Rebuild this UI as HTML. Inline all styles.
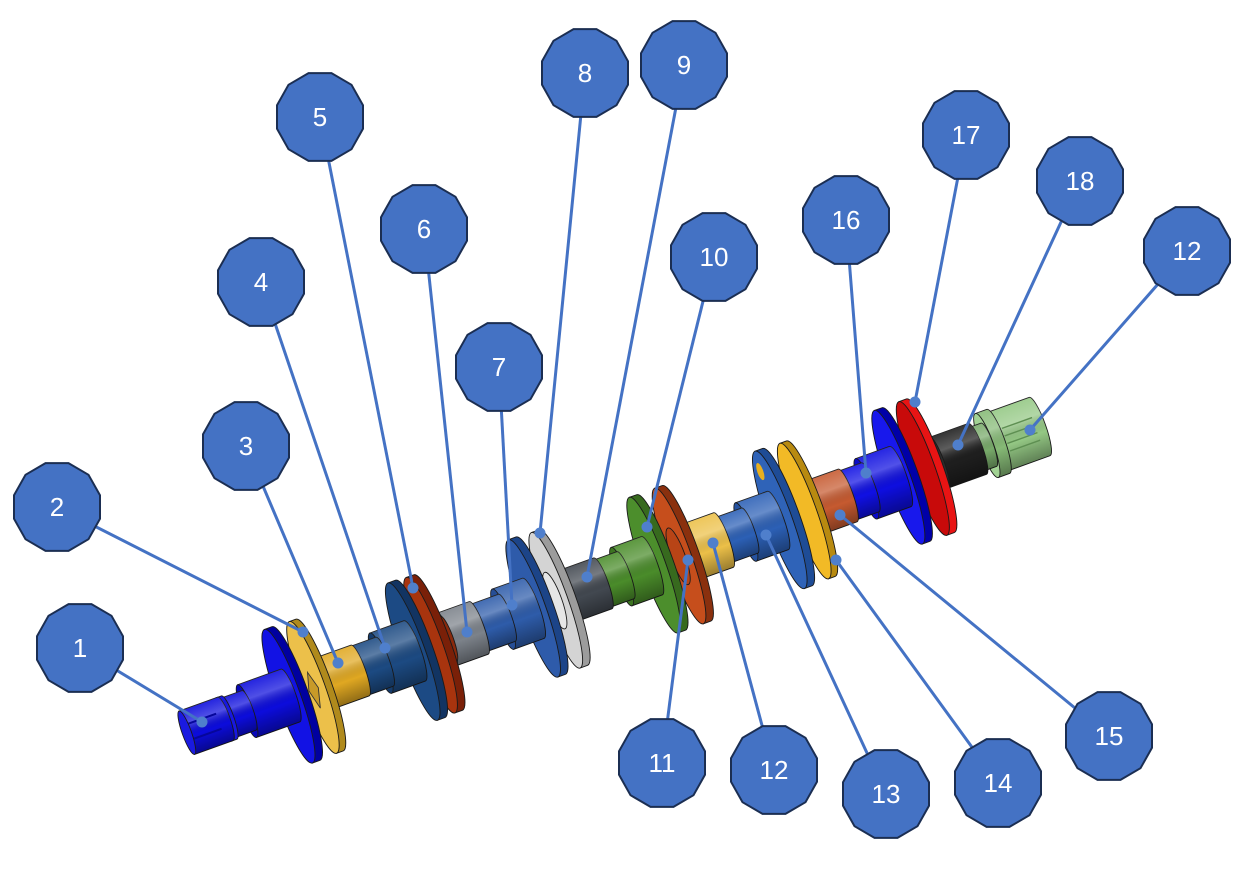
<!DOCTYPE html>
<html>
<head>
<meta charset="utf-8">
<style>
html,body{margin:0;padding:0;background:#fff;}
svg{display:block;}
.o{stroke:#1a1a1a;stroke-width:0.9;}
.lbl{font-family:"Liberation Sans",sans-serif;font-size:26px;fill:#fff;text-anchor:middle;}
</style>
</head>
<body>
<svg width="1256" height="872" viewBox="0 0 1256 872" xmlns="http://www.w3.org/2000/svg">
<defs>
<linearGradient id="sh" x1="0" y1="0" x2="0" y2="1">
<stop offset="0" stop-color="#fff" stop-opacity="0.10"/>
<stop offset="0.3" stop-color="#fff" stop-opacity="0.28"/>
<stop offset="0.6" stop-color="#000" stop-opacity="0"/>
<stop offset="1" stop-color="#000" stop-opacity="0.35"/>
</linearGradient>
</defs>
<rect width="1256" height="872" fill="#fff"/>

<!-- assembly along axis -->
<g transform="translate(200,728) rotate(-19.75)">
<!-- 12R green end -->
<path class="o" fill="#94C884" d="M845 -31 H892 A6.2 31 0 0 1 892 31 H845 Z"/>
<path fill="url(#sh)" d="M845 -31 H892 A6.2 31 0 0 1 892 31 H845 Z"/>
<path d="M856 -11 H888 M856 -3 H888 M856 5 H888 M856 13 H888" stroke="#5E8F52" stroke-width="1.4" fill="none"/>
<ellipse class="o" fill="#A9D89A" cx="845" cy="0" rx="6.2" ry="31"/>
<path class="o" fill="#86BA76" d="M836 -34 H848 A6.8 34 0 0 1 848 34 H836 Z"/>
<path fill="url(#sh)" d="M836 -34 H848 A6.8 34 0 0 1 848 34 H836 Z"/>
<ellipse class="o" fill="#A2D294" cx="836" cy="0" rx="6.8" ry="34"/>
<path class="o" fill="#78AA6A" d="M820 -23 H838 A4.6 23 0 0 1 838 23 H820 Z"/>
<path fill="url(#sh)" d="M820 -23 H838 A4.6 23 0 0 1 838 23 H820 Z"/>
<ellipse class="o" fill="#8CBE7E" cx="820" cy="0" rx="4.6" ry="23"/>
<!-- 18 black -->
<path class="o" fill="#1E1E1E" d="M785 -27 H826 A5.4 27 0 0 1 826 27 H785 Z"/>
<path fill="url(#sh)" d="M785 -27 H826 A5.4 27 0 0 1 826 27 H785 Z"/>
<ellipse class="o" fill="#2C2C2C" cx="785" cy="0" rx="5.4" ry="27"/>
<!-- 17 red disc -->
<path class="o" fill="#E81414" d="M768 -71 H776 A12 71 0 0 1 776 71 H768 Z"/>
<ellipse class="o" fill="#C80A0A" cx="768" cy="0" rx="12" ry="71"/>
<!-- 16 blue -->
<path class="o" fill="#0000A8" d="M742 -71 H750 A12 71 0 0 1 750 71 H742 Z"/>
<ellipse class="o" fill="#1818EC" cx="742" cy="0" rx="12" ry="71"/>
<path class="o" fill="#0E0EE0" d="M708 -32 H744 A6.4 32 0 0 1 744 32 H708 Z"/>
<path fill="url(#sh)" d="M708 -32 H744 A6.4 32 0 0 1 744 32 H708 Z"/>
<ellipse class="o" fill="#0A0AC8" cx="708" cy="0" rx="6.4" ry="32"/>
<path class="o" fill="#1010E4" d="M684 -26 H712 A5.2 26 0 0 1 712 26 H684 Z"/>
<path fill="url(#sh)" d="M684 -26 H712 A5.2 26 0 0 1 712 26 H684 Z"/>
<ellipse class="o" fill="#0A0AC0" cx="684" cy="0" rx="5.2" ry="26"/>
<!-- 15 orange cylinder -->
<path class="o" fill="#C65A30" d="M652 -28 H688 A5.6 28 0 0 1 688 28 H652 Z"/>
<path fill="url(#sh)" d="M652 -28 H688 A5.6 28 0 0 1 688 28 H652 Z"/>
<ellipse class="o" fill="#A84820" cx="652" cy="0" rx="5.6" ry="28"/>
<!-- 14 yellow plate -->
<path class="o" fill="#B88A10" d="M642 -72 H649 A12 72 0 0 1 649 72 H642 Z"/>
<ellipse class="o" fill="#F2BA26" cx="642" cy="0" rx="12" ry="72"/>
<!-- 13 blue -->
<path class="o" fill="#1E4C96" d="M616 -73 H624 A12.4 73 0 0 1 624 73 H616 Z"/>
<ellipse class="o" fill="#2F63B8" cx="616" cy="0" rx="12.4" ry="73"/>
<ellipse fill="#E8B020" cx="614" cy="-52" rx="3" ry="9"/>
<path class="o" fill="#2C60B6" d="M580 -31 H614 A6.2 31 0 0 1 614 31 H580 Z"/>
<path fill="url(#sh)" d="M580 -31 H614 A6.2 31 0 0 1 614 31 H580 Z"/>
<ellipse class="o" fill="#2552A0" cx="580" cy="0" rx="6.2" ry="31"/>
<path class="o" fill="#2C60B6" d="M553 -24 H584 A4.8 24 0 0 1 584 24 H553 Z"/>
<path fill="url(#sh)" d="M553 -24 H584 A4.8 24 0 0 1 584 24 H553 Z"/>
<ellipse class="o" fill="#2552A0" cx="553" cy="0" rx="4.8" ry="24"/>
<!-- 12 yellow cylinder -->
<path class="o" fill="#ECC048" d="M520 -29 H556 A5.8 29 0 0 1 556 29 H520 Z"/>
<path fill="url(#sh)" d="M520 -29 H556 A5.8 29 0 0 1 556 29 H520 Z"/>
<ellipse class="o" fill="#D8A830" cx="520" cy="0" rx="5.8" ry="29"/>
<!-- 11 orange disc -->
<path class="o" fill="#8A300E" d="M509 -72 H517 A12 72 0 0 1 517 72 H509 Z"/>
<ellipse class="o" fill="#C64E1C" cx="509" cy="0" rx="12" ry="72"/>
<ellipse class="o" fill="#B84416" cx="508" cy="0" rx="7" ry="30"/>
<!-- 10 green -->
<path class="o" fill="#376A1E" d="M482 -72 H490 A12 72 0 0 1 490 72 H482 Z"/>
<ellipse class="o" fill="#4C8E2C" cx="482" cy="0" rx="12" ry="72"/>
<path class="o" fill="#4A8C2A" d="M448 -31 H480 A6.2 31 0 0 1 480 31 H448 Z"/>
<path fill="url(#sh)" d="M448 -31 H480 A6.2 31 0 0 1 480 31 H448 Z"/>
<ellipse class="o" fill="#3C7420" cx="448" cy="0" rx="6.2" ry="31"/>
<path class="o" fill="#4A8C2A" d="M425 -25 H452 A5 25 0 0 1 452 25 H425 Z"/>
<path fill="url(#sh)" d="M425 -25 H452 A5 25 0 0 1 452 25 H425 Z"/>
<ellipse class="o" fill="#3C7420" cx="425" cy="0" rx="5" ry="25"/>
<!-- 9 dark -->
<path class="o" fill="#424850" d="M390 -27 H428 A5.4 27 0 0 1 428 27 H390 Z"/>
<path fill="url(#sh)" d="M390 -27 H428 A5.4 27 0 0 1 428 27 H390 Z"/>
<ellipse class="o" fill="#353A42" cx="390" cy="0" rx="5.4" ry="27"/>
<!-- 8 light gray -->
<path class="o" fill="#9C9C9C" d="M378 -72 H386 A12 72 0 0 1 386 72 H378 Z"/>
<ellipse class="o" fill="#D4D4D4" cx="378" cy="0" rx="12" ry="72"/>
<ellipse class="o" fill="#E6E6E6" cx="377" cy="0" rx="7" ry="30"/>
<!-- 7 blue -->
<path class="o" fill="#1C4488" d="M354 -73 H362 A12.4 73 0 0 1 362 73 H354 Z"/>
<ellipse class="o" fill="#2E5BAA" cx="354" cy="0" rx="12.4" ry="73"/>
<path class="o" fill="#2E5CAA" d="M322 -32 H354 A6.4 32 0 0 1 354 32 H322 Z"/>
<path fill="url(#sh)" d="M322 -32 H354 A6.4 32 0 0 1 354 32 H322 Z"/>
<ellipse class="o" fill="#264E96" cx="322" cy="0" rx="6.4" ry="32"/>
<path class="o" fill="#2E5CAA" d="M294 -25 H326 A5 25 0 0 1 326 25 H294 Z"/>
<path fill="url(#sh)" d="M294 -25 H326 A5 25 0 0 1 326 25 H294 Z"/>
<ellipse class="o" fill="#264E96" cx="294" cy="0" rx="5" ry="25"/>
<!-- 6 gray -->
<path class="o" fill="#7C828A" d="M262 -28 H296 A5.6 28 0 0 1 296 28 H262 Z"/>
<path fill="url(#sh)" d="M262 -28 H296 A5.6 28 0 0 1 296 28 H262 Z"/>
<ellipse class="o" fill="#6A7078" cx="262" cy="0" rx="5.6" ry="28"/>
<!-- hub -->
<path class="o" fill="#8A2A0C" d="M250 -24 H264 A4.8 24 0 0 1 264 24 H250 Z"/>
<!-- 5 red-brown disc -->
<path class="o" fill="#7A2008" d="M245 -72 H253 A12 72 0 0 1 253 72 H245 Z"/>
<ellipse class="o" fill="#A8340E" cx="245" cy="0" rx="12" ry="72"/>
<!-- 4 navy -->
<path class="o" fill="#123462" d="M226 -73 H234 A12.4 73 0 0 1 234 73 H226 Z"/>
<ellipse class="o" fill="#1C4A84" cx="226" cy="0" rx="12.4" ry="73"/>
<path class="o" fill="#1C4A82" d="M192 -32 H228 A6.4 32 0 0 1 228 32 H192 Z"/>
<path fill="url(#sh)" d="M192 -32 H228 A6.4 32 0 0 1 228 32 H192 Z"/>
<ellipse class="o" fill="#163C6C" cx="192" cy="0" rx="6.4" ry="32"/>
<path class="o" fill="#1C4A82" d="M168 -26 H196 A5.2 26 0 0 1 196 26 H168 Z"/>
<path fill="url(#sh)" d="M168 -26 H196 A5.2 26 0 0 1 196 26 H168 Z"/>
<ellipse class="o" fill="#163C6C" cx="168" cy="0" rx="5.2" ry="26"/>
<!-- 3 yellow cylinder -->
<path class="o" fill="#E0A822" d="M128 -27 H170 A5.4 27 0 0 1 170 27 H128 Z"/>
<path fill="url(#sh)" d="M128 -27 H170 A5.4 27 0 0 1 170 27 H128 Z"/>
<ellipse class="o" fill="#C8921A" cx="128" cy="0" rx="5.4" ry="27"/>
<!-- 2 yellow plate -->
<path class="o" fill="#B08A1C" d="M120 -70 H127 A12 70 0 0 1 127 70 H120 Z"/>
<ellipse class="o" fill="#ECC04A" cx="120" cy="0" rx="12" ry="70"/>
<polygon points="120,-16 125,2 120,22 115,2" fill="#C89A28" stroke="#333" stroke-width="0.9"/>
<!-- 1 blue -->
<path class="o" fill="#0000A0" d="M94 -71 H102 A12 71 0 0 1 102 71 H94 Z"/>
<ellipse class="o" fill="#1212E4" cx="94" cy="0" rx="12" ry="71"/>
<path class="o" fill="#0C0CDC" d="M50 -28 H96 A5.6 28 0 0 1 96 28 H50 Z"/>
<path fill="url(#sh)" d="M50 -28 H96 A5.6 28 0 0 1 96 28 H50 Z"/>
<ellipse class="o" fill="#0808B8" cx="50" cy="0" rx="5.6" ry="28"/>
<path class="o" fill="#0C0CDC" d="M30 -21 H52 A4.2 21 0 0 1 52 21 H30 Z"/>
<path fill="url(#sh)" d="M30 -21 H52 A4.2 21 0 0 1 52 21 H30 Z"/>
<ellipse class="o" fill="#0808B8" cx="30" cy="0" rx="4.2" ry="21"/>
<path class="o" fill="#1818E0" d="M25 -23 H31 A4.6 23 0 0 1 31 23 H25 Z"/>
<ellipse class="o" fill="#0A0AC0" cx="25" cy="0" rx="4.6" ry="23"/>
<path class="o" fill="#0C0CDC" d="M-14 -23 H27 A4.6 23 0 0 1 27 23 H-14 Z"/>
<path fill="url(#sh)" d="M-14 -23 H27 A4.6 23 0 0 1 27 23 H-14 Z"/>
<path d="M-10 -8 H20 M-10 8 H20" stroke="#06069A" stroke-width="2" fill="none"/>
<ellipse class="o" fill="#1A1AE0" cx="-14" cy="0" rx="4.6" ry="23"/>
</g>

<!-- leader lines -->
<g stroke="#4472C4" stroke-width="3" fill="none">
<line x1="80" y1="648" x2="202" y2="722"/>
<line x1="57" y1="507" x2="303" y2="632"/>
<line x1="246" y1="446" x2="338" y2="663"/>
<line x1="261" y1="282" x2="385" y2="648"/>
<line x1="320" y1="117" x2="413" y2="588"/>
<line x1="424" y1="229" x2="467" y2="632"/>
<line x1="499" y1="367" x2="512" y2="605"/>
<line x1="585" y1="73" x2="540" y2="533"/>
<line x1="684" y1="65" x2="587" y2="577"/>
<line x1="714" y1="257" x2="647" y2="527"/>
<line x1="662" y1="763" x2="688" y2="560"/>
<line x1="774" y1="770" x2="713" y2="543"/>
<line x1="886" y1="794" x2="766" y2="535"/>
<line x1="998" y1="783" x2="836" y2="560"/>
<line x1="1109" y1="736" x2="840" y2="515"/>
<line x1="846" y1="220" x2="866" y2="473"/>
<line x1="966" y1="135" x2="915" y2="402"/>
<line x1="1080" y1="181" x2="958" y2="445"/>
<line x1="1187" y1="251" x2="1030" y2="430"/>
</g>
<g fill="#4F7FCC">
<circle cx="202" cy="722" r="5.5"/>
<circle cx="303" cy="632" r="5.5"/>
<circle cx="338" cy="663" r="5.5"/>
<circle cx="385" cy="648" r="5.5"/>
<circle cx="413" cy="588" r="5.5"/>
<circle cx="467" cy="632" r="5.5"/>
<circle cx="512" cy="605" r="5.5"/>
<circle cx="540" cy="533" r="5.5"/>
<circle cx="587" cy="577" r="5.5"/>
<circle cx="647" cy="527" r="5.5"/>
<circle cx="688" cy="560" r="5.5"/>
<circle cx="713" cy="543" r="5.5"/>
<circle cx="766" cy="535" r="5.5"/>
<circle cx="836" cy="560" r="5.5"/>
<circle cx="840" cy="515" r="5.5"/>
<circle cx="866" cy="473" r="5.5"/>
<circle cx="915" cy="402" r="5.5"/>
<circle cx="958" cy="445" r="5.5"/>
<circle cx="1030" cy="430" r="5.5"/>
</g>

<!-- callouts -->
<g fill="#4472C4" stroke="#1B2E52" stroke-width="2">
<polygon transform="translate(80,648)" points="43,11.8 31.5,32.2 11.5,43.9 -11.5,43.9 -31.5,32.2 -43,11.8 -43,-11.8 -31.5,-32.2 -11.5,-43.9 11.5,-43.9 31.5,-32.2 43,-11.8"/>
<polygon transform="translate(57,507)" points="43,11.8 31.5,32.2 11.5,43.9 -11.5,43.9 -31.5,32.2 -43,11.8 -43,-11.8 -31.5,-32.2 -11.5,-43.9 11.5,-43.9 31.5,-32.2 43,-11.8"/>
<polygon transform="translate(246,446)" points="43,11.8 31.5,32.2 11.5,43.9 -11.5,43.9 -31.5,32.2 -43,11.8 -43,-11.8 -31.5,-32.2 -11.5,-43.9 11.5,-43.9 31.5,-32.2 43,-11.8"/>
<polygon transform="translate(261,282)" points="43,11.8 31.5,32.2 11.5,43.9 -11.5,43.9 -31.5,32.2 -43,11.8 -43,-11.8 -31.5,-32.2 -11.5,-43.9 11.5,-43.9 31.5,-32.2 43,-11.8"/>
<polygon transform="translate(320,117)" points="43,11.8 31.5,32.2 11.5,43.9 -11.5,43.9 -31.5,32.2 -43,11.8 -43,-11.8 -31.5,-32.2 -11.5,-43.9 11.5,-43.9 31.5,-32.2 43,-11.8"/>
<polygon transform="translate(424,229)" points="43,11.8 31.5,32.2 11.5,43.9 -11.5,43.9 -31.5,32.2 -43,11.8 -43,-11.8 -31.5,-32.2 -11.5,-43.9 11.5,-43.9 31.5,-32.2 43,-11.8"/>
<polygon transform="translate(499,367)" points="43,11.8 31.5,32.2 11.5,43.9 -11.5,43.9 -31.5,32.2 -43,11.8 -43,-11.8 -31.5,-32.2 -11.5,-43.9 11.5,-43.9 31.5,-32.2 43,-11.8"/>
<polygon transform="translate(585,73)" points="43,11.8 31.5,32.2 11.5,43.9 -11.5,43.9 -31.5,32.2 -43,11.8 -43,-11.8 -31.5,-32.2 -11.5,-43.9 11.5,-43.9 31.5,-32.2 43,-11.8"/>
<polygon transform="translate(684,65)" points="43,11.8 31.5,32.2 11.5,43.9 -11.5,43.9 -31.5,32.2 -43,11.8 -43,-11.8 -31.5,-32.2 -11.5,-43.9 11.5,-43.9 31.5,-32.2 43,-11.8"/>
<polygon transform="translate(714,257)" points="43,11.8 31.5,32.2 11.5,43.9 -11.5,43.9 -31.5,32.2 -43,11.8 -43,-11.8 -31.5,-32.2 -11.5,-43.9 11.5,-43.9 31.5,-32.2 43,-11.8"/>
<polygon transform="translate(662,763)" points="43,11.8 31.5,32.2 11.5,43.9 -11.5,43.9 -31.5,32.2 -43,11.8 -43,-11.8 -31.5,-32.2 -11.5,-43.9 11.5,-43.9 31.5,-32.2 43,-11.8"/>
<polygon transform="translate(774,770)" points="43,11.8 31.5,32.2 11.5,43.9 -11.5,43.9 -31.5,32.2 -43,11.8 -43,-11.8 -31.5,-32.2 -11.5,-43.9 11.5,-43.9 31.5,-32.2 43,-11.8"/>
<polygon transform="translate(886,794)" points="43,11.8 31.5,32.2 11.5,43.9 -11.5,43.9 -31.5,32.2 -43,11.8 -43,-11.8 -31.5,-32.2 -11.5,-43.9 11.5,-43.9 31.5,-32.2 43,-11.8"/>
<polygon transform="translate(998,783)" points="43,11.8 31.5,32.2 11.5,43.9 -11.5,43.9 -31.5,32.2 -43,11.8 -43,-11.8 -31.5,-32.2 -11.5,-43.9 11.5,-43.9 31.5,-32.2 43,-11.8"/>
<polygon transform="translate(1109,736)" points="43,11.8 31.5,32.2 11.5,43.9 -11.5,43.9 -31.5,32.2 -43,11.8 -43,-11.8 -31.5,-32.2 -11.5,-43.9 11.5,-43.9 31.5,-32.2 43,-11.8"/>
<polygon transform="translate(846,220)" points="43,11.8 31.5,32.2 11.5,43.9 -11.5,43.9 -31.5,32.2 -43,11.8 -43,-11.8 -31.5,-32.2 -11.5,-43.9 11.5,-43.9 31.5,-32.2 43,-11.8"/>
<polygon transform="translate(966,135)" points="43,11.8 31.5,32.2 11.5,43.9 -11.5,43.9 -31.5,32.2 -43,11.8 -43,-11.8 -31.5,-32.2 -11.5,-43.9 11.5,-43.9 31.5,-32.2 43,-11.8"/>
<polygon transform="translate(1080,181)" points="43,11.8 31.5,32.2 11.5,43.9 -11.5,43.9 -31.5,32.2 -43,11.8 -43,-11.8 -31.5,-32.2 -11.5,-43.9 11.5,-43.9 31.5,-32.2 43,-11.8"/>
<polygon transform="translate(1187,251)" points="43,11.8 31.5,32.2 11.5,43.9 -11.5,43.9 -31.5,32.2 -43,11.8 -43,-11.8 -31.5,-32.2 -11.5,-43.9 11.5,-43.9 31.5,-32.2 43,-11.8"/>
</g>
<g class="lbl">
<text x="80" y="657" class="lbl">1</text>
<text x="57" y="516" class="lbl">2</text>
<text x="246" y="455" class="lbl">3</text>
<text x="261" y="291" class="lbl">4</text>
<text x="320" y="126" class="lbl">5</text>
<text x="424" y="238" class="lbl">6</text>
<text x="499" y="376" class="lbl">7</text>
<text x="585" y="82" class="lbl">8</text>
<text x="684" y="74" class="lbl">9</text>
<text x="714" y="266" class="lbl">10</text>
<text x="662" y="772" class="lbl">11</text>
<text x="774" y="779" class="lbl">12</text>
<text x="886" y="803" class="lbl">13</text>
<text x="998" y="792" class="lbl">14</text>
<text x="1109" y="745" class="lbl">15</text>
<text x="846" y="229" class="lbl">16</text>
<text x="966" y="144" class="lbl">17</text>
<text x="1080" y="190" class="lbl">18</text>
<text x="1187" y="260" class="lbl">12</text>
</g>
</svg>
</body>
</html>
